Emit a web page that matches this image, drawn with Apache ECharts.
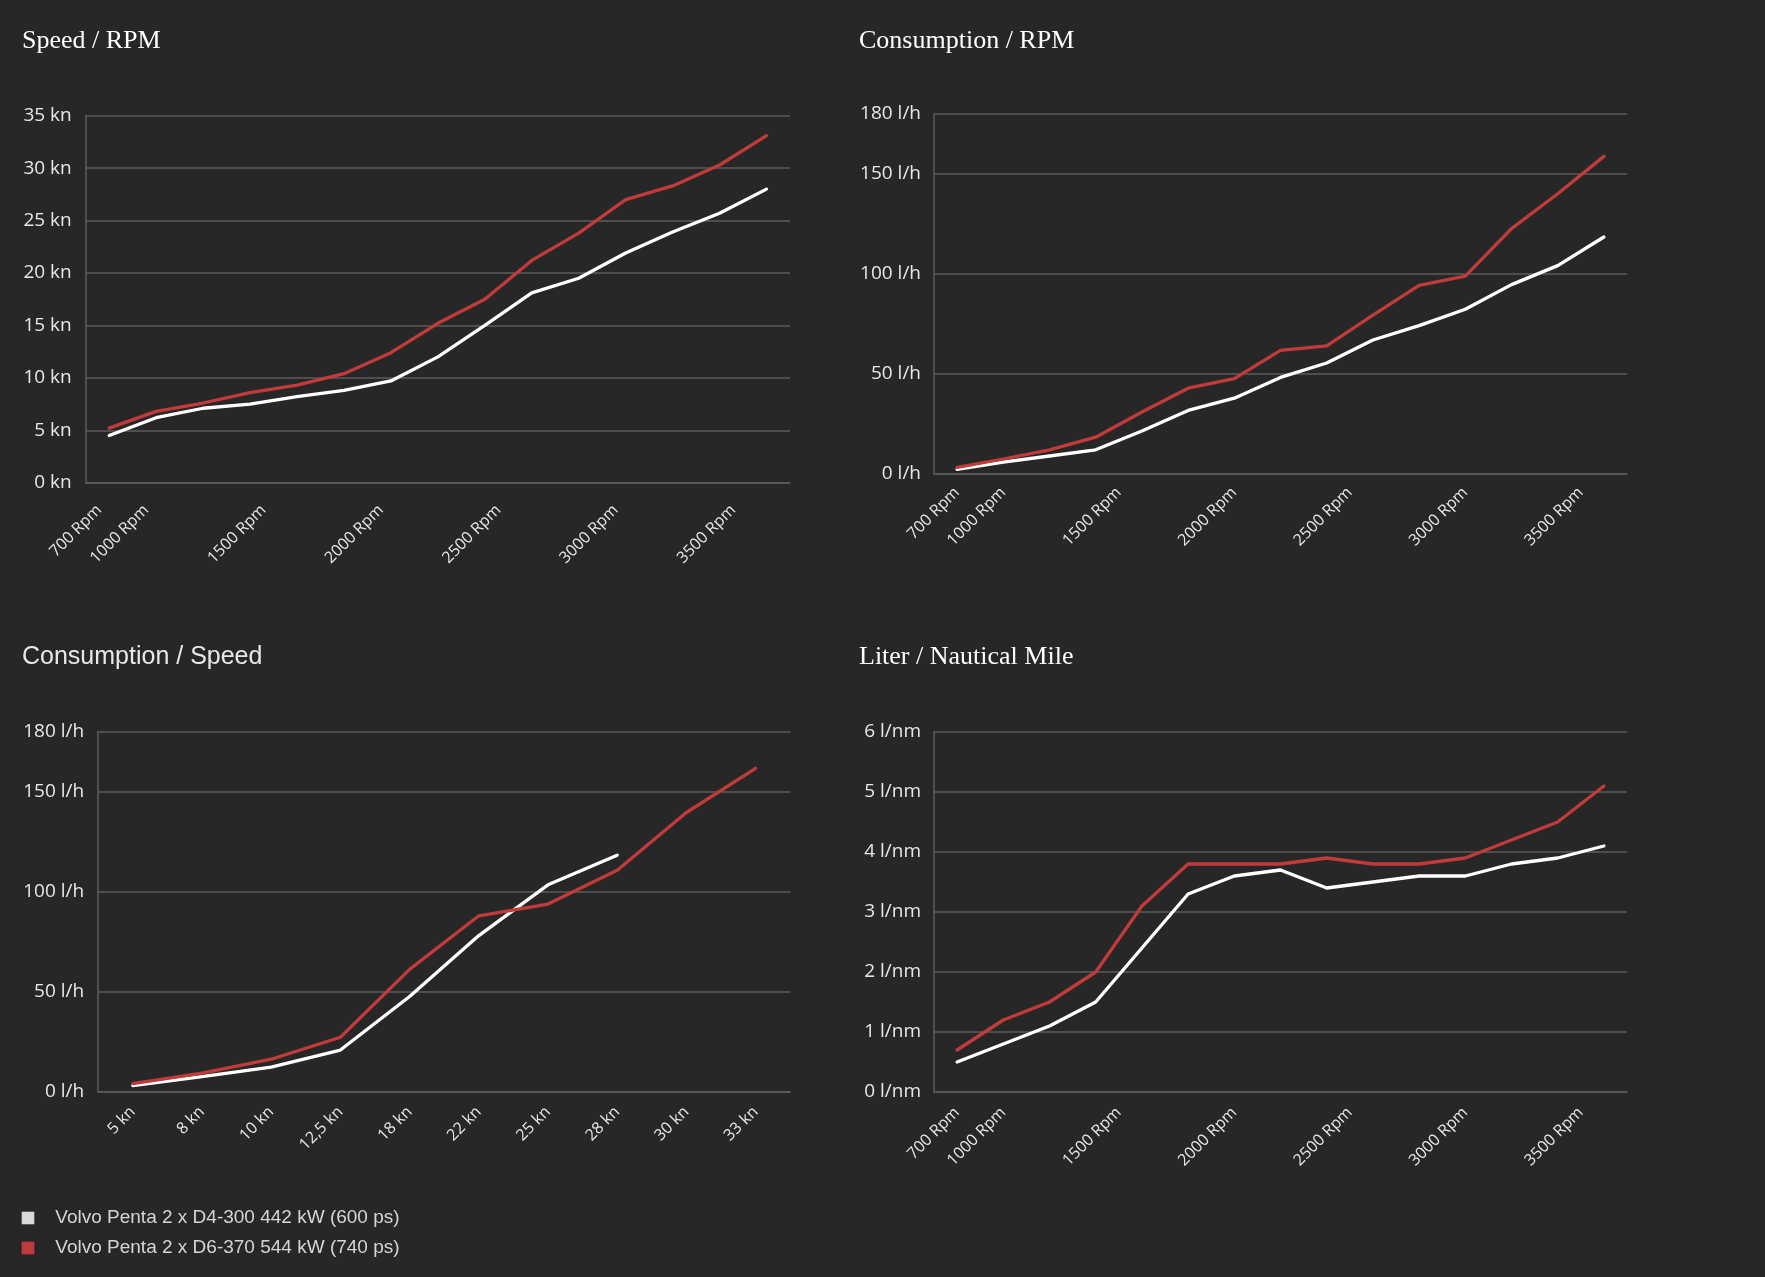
<!DOCTYPE html>
<html>
<head>
<meta charset="utf-8">
<script src="https://cdn.jsdelivr.net/npm/echarts@6/dist/echarts.min.js"></script>
<style>
html,body{margin:0;padding:0;background:#272727;}
#c{width:1765px;height:1277px;}
</style>
</head>
<body>
<div id="c"></div>
<script>
// ---------- DATA ----------
const seriesNames = ['Volvo Penta 2 x D4-300 442 kW (600 ps)', 'Volvo Penta 2 x D6-370 544 kW (740 ps)'];
const chartTitles = ['Speed / RPM', 'Consumption / RPM', 'Consumption / Speed', 'Liter / Nautical Mile'];

// RPM measuring points (category axis of the three RPM charts)
const rpmCategories = [700, 1000, 1200, 1400, 1600, 1800, 2000, 2200, 2400, 2600, 2800, 3000, 3200, 3400, 3600];
// RPM tick labels shown under the RPM charts
const rpmTickLabels = [700, 1000, 1500, 2000, 2500, 3000, 3500];
// Speed categories of the Consumption / Speed chart
const speedCategories = ['5 kn', '8 kn', '10 kn', '12,5 kn', '18 kn', '22 kn', '25 kn', '28 kn', '30 kn', '33 kn'];

// y-axis ticks
const speedTicks = [0, 5, 10, 15, 20, 25, 30, 35];
const consumptionTicks = [0, 50, 100, 150, 180];
const literNmTicks = [0, 1, 2, 3, 4, 5, 6];

// Speed / RPM (kn)
const speedD4 = [4.5, 6.2, 7.1, 7.5, 8.2, 8.8, 9.7, 12.0, 15.0, 18.1, 19.5, 21.9, 23.9, 25.7, 28.0];
const speedD6 = [5.2, 6.8, 7.6, 8.6, 9.3, 10.4, 12.4, 15.2, 17.5, 21.2, 23.8, 27.0, 28.3, 30.3, 33.1];
// Consumption / RPM (l/h)
const consRpmD4 = [2.3, 5.9, 9.0, 12.1, 21.5, 31.8, 37.9, 48.3, 55.5, 67.0, 74.2, 82.4, 94.7, 104.2, 118.5];
const consRpmD6 = [3.3, 7.5, 12.1, 18.4, 31.0, 42.9, 47.7, 61.8, 64.1, 79.4, 94.3, 98.9, 122.7, 140.1, 158.8];
// Consumption / Speed (l/h)
const consSpeedD4 = [2.9, 7.4, 12.2, 20.7, 47.5, 78.0, 103.4, 118.2, null, null];
const consSpeedD6 = [3.9, 9.1, 16.1, 27.1, 61.1, 87.9, 93.8, 110.7, 139.6, 161.7];
// Liter / Nautical Mile (l/nm)
const lnmD4 = [0.5, 0.8, 1.1, 1.5, 2.4, 3.3, 3.6, 3.7, 3.4, 3.5, 3.6, 3.6, 3.8, 3.9, 4.1];
const lnmD6 = [0.7, 1.2, 1.5, 2.0, 3.1, 3.8, 3.8, 3.8, 3.9, 3.8, 3.8, 3.9, 4.2, 4.5, 5.1];

// ---------- STYLE ----------
const BG = '#272727';
const GRID_COLOR = '#5c5c5c';
const WHITE = '#ffffff';
const RED = '#c23b3b';
const LABEL_COLOR = '#e8e8e8';
const LABEL_FONT = '"Open Sans", sans-serif';

// position of an rpm value on the rpm category scale (interpolated between measuring points)
function rpmPos(rpm) {
  for (let i = 0; i < rpmCategories.length - 1; i++) {
    const a = rpmCategories[i], b = rpmCategories[i + 1];
    if (rpm >= a && rpm <= b) return i + (rpm - a) / (b - a);
  }
  return rpmCategories.length - 1;
}
const rpmTickPositions = rpmTickLabels.map(rpmPos);

const grids = [
  { left: 85.7, top: 115.7, width: 704.3, height: 367 },
  { left: 934, top: 114, width: 693, height: 360 },
  { left: 98.2, top: 731.8, width: 692, height: 359.6 },
  { left: 934, top: 732, width: 693, height: 360 }
];

function catAxis(gridIndex, data, showLabels, labelOpts) {
  return {
    type: 'category', gridIndex, data, position: 'bottom', boundaryGap: true,
    axisLine: { show: true, onZero: false, lineStyle: { color: GRID_COLOR, width: 1.5 } },
    axisTick: { show: false },
    splitLine: { show: false },
    axisLabel: Object.assign({
      show: showLabels, interval: 0, rotate: 45, color: LABEL_COLOR,
      fontFamily: LABEL_FONT, fontSize: 16
    }, labelOpts || {})
  };
}
function rpmLabelAxis(gridIndex, labelOpts) {
  return {
    type: 'value', gridIndex, position: 'bottom',
    min: -0.5, max: rpmCategories.length - 0.5, interval: 0.5,
    axisLine: { show: false, onZero: false }, axisTick: { show: false }, splitLine: { show: false },
    axisLabel: Object.assign({
      show: true, rotate: 45, color: LABEL_COLOR, fontFamily: LABEL_FONT, fontSize: 16,
      showMinLabel: true, showMaxLabel: true,
      formatter: function (v) {
        const k = rpmTickPositions.findIndex(p => Math.abs(p - v) < 1e-6);
        return k >= 0 ? rpmTickLabels[k] + ' Rpm' : '';
      }
    }, labelOpts || {})
  };
}
function valAxis(gridIndex, ticks, unit, margin) {
  return {
    type: 'value', gridIndex, position: 'left',
    min: ticks[0], max: ticks[ticks.length - 1], interval: ticks[1] - ticks[0],
    axisLine: { show: true, onZero: false, lineStyle: { color: GRID_COLOR, width: 1.5 } },
    axisTick: { show: false },
    splitLine: { show: true, lineStyle: { color: GRID_COLOR, width: 1.5 } },
    axisLabel: {
      color: LABEL_COLOR, fontFamily: LABEL_FONT, fontSize: 19, margin: margin,
      formatter: v => v + ' ' + unit
    }
  };
}
function line(name, data, xAxisIndex, yAxisIndex, color) {
  return {
    name, type: 'line', data, xAxisIndex, yAxisIndex,
    symbol: 'none', smooth: false, connectNulls: false,
    lineStyle: { color, width: 3.3, cap: 'round', join: 'round' },
    itemStyle: { color },
    emphasis: { disabled: true }
  };
}

const serifTitle = { fontFamily: '"Liberation Serif", "Times New Roman", serif', fontWeight: 'normal', fontSize: 26, color: '#ffffff' };
const sansTitle = { fontFamily: '"Liberation Sans", Arial, sans-serif', fontWeight: 'normal', fontSize: 25, color: '#e8e8e8' };

const option = {
  backgroundColor: BG,
  animation: false,
  title: [
    { text: chartTitles[0], left: 22, top: 28, padding: 0, textStyle: serifTitle },
    { text: chartTitles[1], left: 859, top: 28, padding: 0, textStyle: serifTitle },
    { text: chartTitles[2], left: 22, top: 645, padding: 0, textStyle: sansTitle },
    { text: chartTitles[3], left: 859, top: 644, padding: 0, textStyle: serifTitle }
  ],
  legend: {
    orient: 'vertical', left: 21.7, top: 1208.5, padding: 0,
    icon: 'rect', itemWidth: 12.6, itemHeight: 12.6, itemGap: 11,
    selectedMode: false,
    data: [
      { name: seriesNames[0], itemStyle: { color: '#d9d9d9' } },
      { name: seriesNames[1], itemStyle: { color: '#c0393b' } }
    ],
    textStyle: {
      color: '#d6d6d6', fontFamily: '"Liberation Sans", Arial, sans-serif', fontSize: 19,
      lineHeight: 19, padding: [0, 0, 0, 16]
    }
  },
  grid: grids,
  xAxis: [
    catAxis(0, rpmCategories, false),
    rpmLabelAxis(0, { margin: 15, padding: [0, 14, 0, 0] }),
    catAxis(1, rpmCategories, false),
    rpmLabelAxis(1, { margin: 16, padding: [18, 0, 0, 0] }),
    catAxis(2, speedCategories, true, { margin: 18, padding: [11, 0, 0, 0] }),
    catAxis(3, rpmCategories, false),
    rpmLabelAxis(3, { margin: 18, padding: [8, 0, 0, 0] })
  ],
  yAxis: [
    valAxis(0, speedTicks, 'kn', 14),
    valAxis(1, consumptionTicks, 'l/h', 13),
    valAxis(2, consumptionTicks, 'l/h', 14),
    valAxis(3, literNmTicks, 'l/nm', 13)
  ],
  series: [
    line(seriesNames[0], speedD4, 0, 0, WHITE),
    line(seriesNames[1], speedD6, 0, 0, RED),
    line(seriesNames[0], consRpmD4, 2, 1, WHITE),
    line(seriesNames[1], consRpmD6, 2, 1, RED),
    line(seriesNames[0], consSpeedD4, 4, 2, WHITE),
    line(seriesNames[1], consSpeedD6, 4, 2, RED),
    line(seriesNames[0], lnmD4, 5, 3, WHITE),
    line(seriesNames[1], lnmD6, 5, 3, RED)
  ]
};

const chart = echarts.init(document.getElementById('c'), null, { renderer: 'canvas', width: 1765, height: 1277 });
chart.setOption(option);
</script>
</body>
</html>
